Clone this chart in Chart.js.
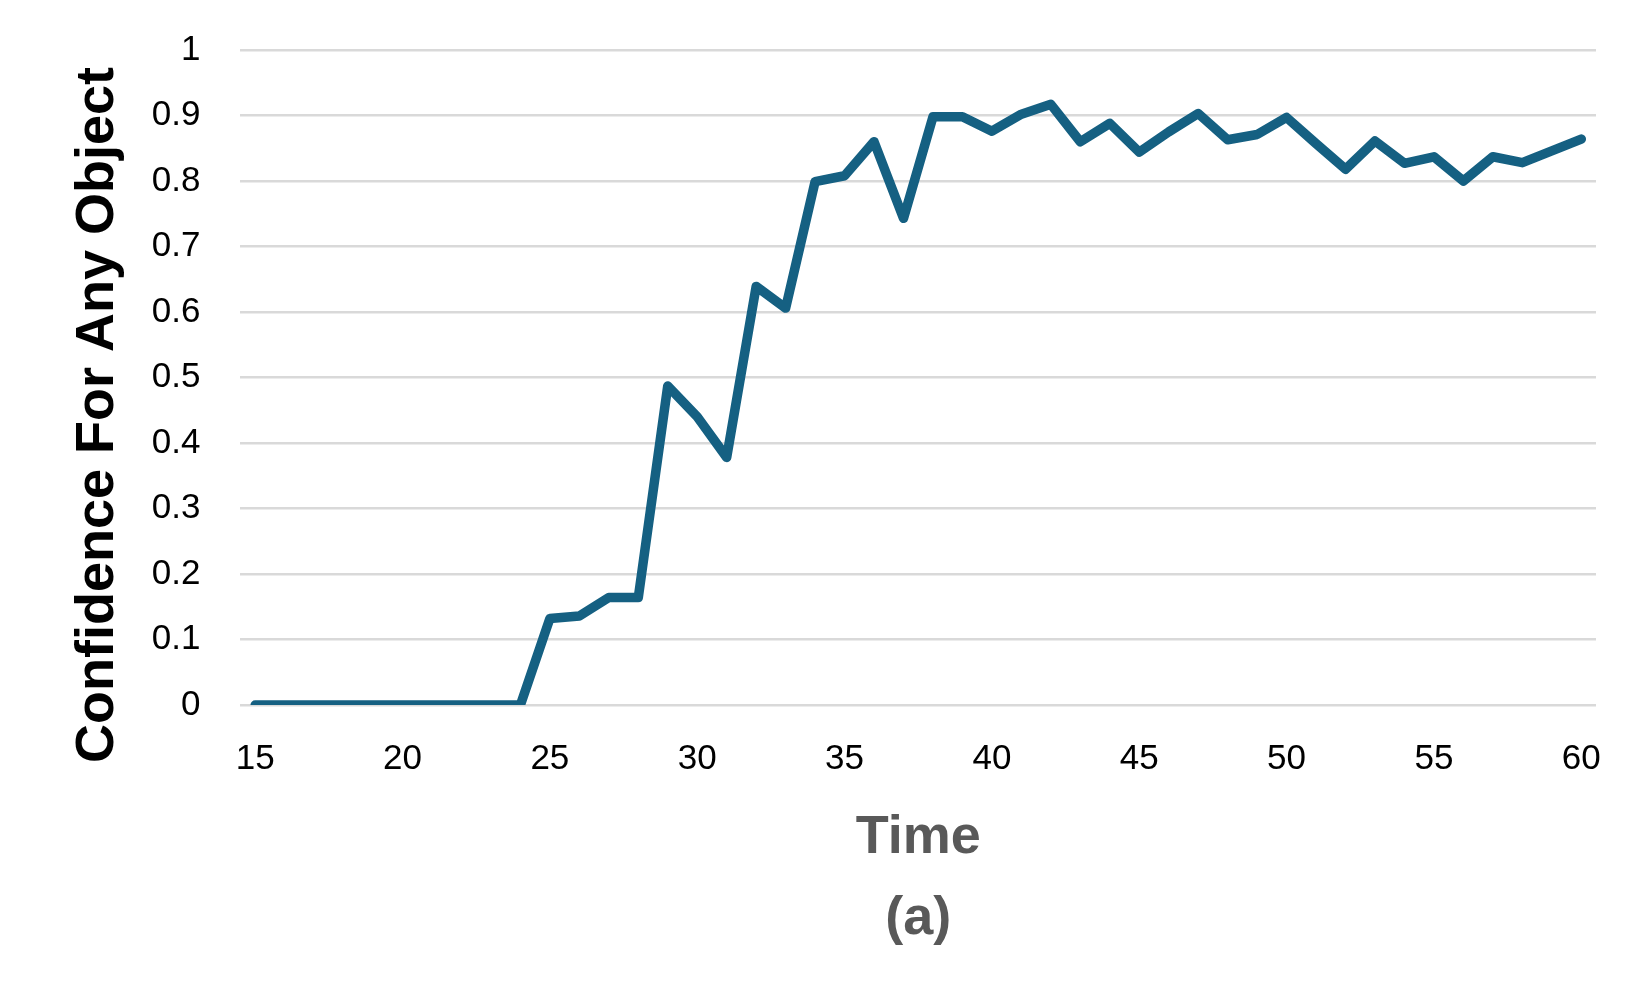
<!DOCTYPE html>
<html>
<head>
<meta charset="utf-8">
<script src="https://cdn.jsdelivr.net/npm/chart.js@4.4.1/dist/chart.umd.min.js"></script>
<style>
  html, body { margin: 0; padding: 0; background: #fff; }
  #wrap { width: 1650px; height: 1008px; }
</style>
</head>
<body>
<div id="wrap"><canvas id="confChart" width="1650" height="1008"></canvas></div>
<script>
// time steps (categories)
const times = [15, 16, 17, 18, 19, 20, 21, 22, 23, 24, 25, 26, 27, 28, 29, 30,
  31, 32, 33, 34, 35, 36, 37, 38, 39, 40, 41, 42, 43, 44, 45,
  46, 47, 48, 49, 50, 51, 52, 53, 54, 55, 56, 57, 58, 59, 60];

// confidence values
const confidence = [0, 0, 0, 0, 0, 0, 0, 0, 0, 0, 0.132, 0.136, 0.164, 0.164, 0.487, 0.44,
  0.378, 0.639, 0.606, 0.799, 0.808, 0.86, 0.743, 0.898, 0.898, 0.876, 0.902, 0.917, 0.86, 0.888, 0.844,
  0.875, 0.903, 0.863, 0.871, 0.897, 0.857, 0.818, 0.861, 0.827, 0.837, 0.8, 0.837, 0.828, 0.846, 0.864];

// x labels that are shown
const xTickLabels = ['15', '20', '25', '30', '35', '40', '45', '50', '55', '60'];

const lineColor = '#156082';
const gridColor = '#d9d9d9';
const titleGray = '#595959';

const ctx = document.getElementById('confChart').getContext('2d');
const confChart = new Chart(ctx, {
  type: 'line',
  data: {
    labels: times.map(String),
    datasets: [{
      label: 'Confidence',
      data: confidence,
      borderColor: lineColor,
      borderWidth: 9.5,
      borderCapStyle: 'round',
      borderJoinStyle: 'round',
      pointRadius: 0,
      fill: false,
      tension: 0
    }]
  },
  options: {
    responsive: false,
    animation: false,
    layout: { padding: { top: 50, right: 54, bottom: 48, left: 20 } },
    plugins: {
      legend: { display: false },
      tooltip: { enabled: false }
    },
    scales: {
      x: {
        offset: true,
        grid: { display: false, drawTicks: false },
        border: { display: false },
        ticks: {
          autoSkip: false,
          maxRotation: 0,
          padding: 33,
          color: '#000',
          font: { family: 'Liberation Sans', size: 35 },
          callback: function (value) {
            const lbl = this.getLabelForValue(value);
            return xTickLabels.includes(lbl) ? lbl : null;
          }
        },
        title: {
          display: true,
          text: ['Time', '(a)'],
          color: titleGray,
          font: { family: 'Liberation Sans', size: 54, weight: 'bold', lineHeight: 1.5 },
          padding: { top: -15, bottom: 0 }
        }
      },
      y: {
        min: 0,
        max: 1,
        grid: {
          color: gridColor,
          lineWidth: 2.5,
          drawTicks: true,
          tickLength: 30,
          tickColor: 'rgba(0,0,0,0)'
        },
        border: { display: false },
        ticks: {
          stepSize: 0.1,
          padding: 10,
          color: '#000',
          font: { family: 'Liberation Sans', size: 35 },
          callback: val => String(Number(val.toFixed(1)))
        },
        title: {
          display: true,
          // trailing spaces push the text a little below the plot centre, as in the original
          text: 'Confidence For Any Object     ',
          color: '#000',
          font: { family: 'Liberation Sans', size: 54, weight: 'bold', lineHeight: 1.2 },
          padding: { top: 46, bottom: 11 }
        }
      }
    }
  }
});
</script>
</body>
</html>
